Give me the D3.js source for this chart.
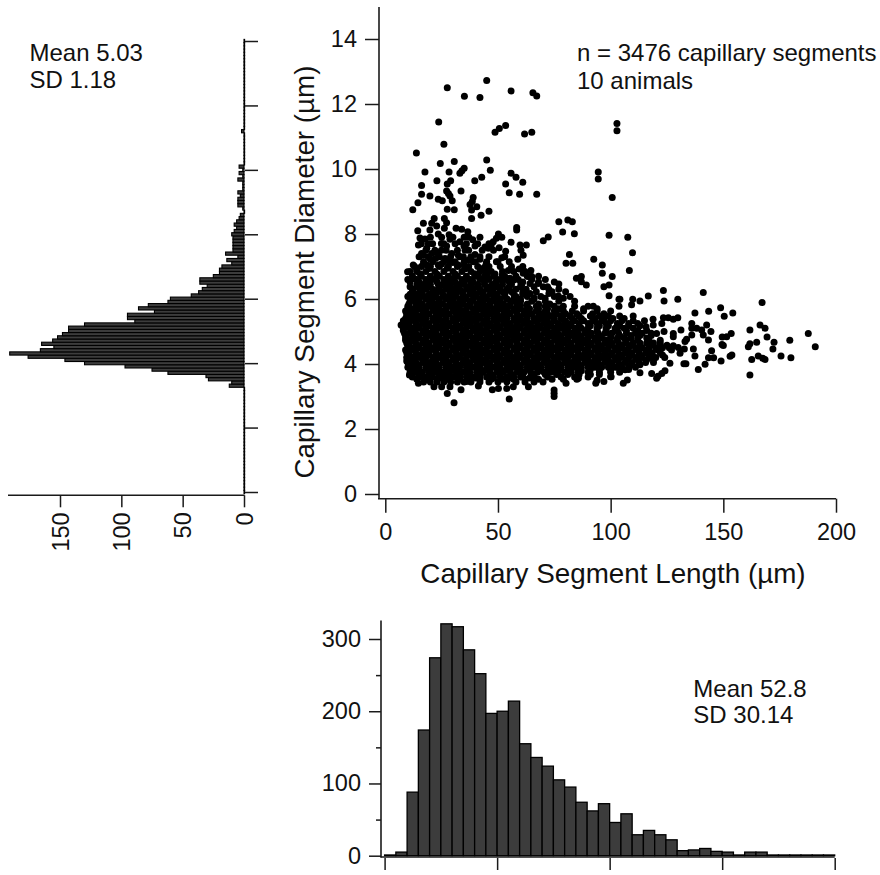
<!DOCTYPE html>
<html><head><meta charset="utf-8">
<script src="https://cdn.jsdelivr.net/npm/d3@7"></script>
<style>html,body{margin:0;background:#fff}text{font-family:"Liberation Sans",Arial,sans-serif;fill:#111}</style>
</head><body><svg id="c" width="880" height="875"></svg>
<script>
// Length histogram: counts per 5 µm bin, starting at 0
const lengthBinWidth = 5;
const lengthCounts = [1,5,88,174,274,321,317,285,252,197,200,214,155,136,124,105,95,74,62,72,46,58,29,35,29,22,7,8,10,6,5,1,5,5,1,1,1,1,1,1];
// Diameter histogram: first bin centre and counts per 0.1 µm
const diameterBinWidth = 0.1;
const diameterFirst = 3.3;
const diameterCounts = [12,10,29,31,62,75,97,130,146,176,191,166,155,165,156,152,148,143,143,130,89,95,95,73,86,78,62,60,43,37,34,30,36,36,25,20,20,18,10,14,5,15,9,9,9,9,9,10,8,6,8,6,4,3,0,1,5,5,5,3,5,1,1,1,5,1,4,1,4];
const diameterSpikeAt = 11.2, diameterSpikeCount = 2;
const diameterAxisMax = 14;
const scatterTicksX = [0,50,100,150,200];
const scatterTicksY = [0,2,4,6,8,10,12,14];
const leftTicks = [0,50,100,150];
const bottomTicks = [0,100,200,300];
const bottomMinor = [50,150,250];
// Scatter: individually read points [length, diameter]
const sparsePoints = [[27.5,12.5],[35.1,12.24],[42,12.2],[45,12.72],[55.8,12.4],[65.5,12.35],[67.2,12.25],[23.7,11.45],[48.7,11.13],[50.6,11.25],[53.4,11.34],[61.8,11.08],[65,11.13],[102.8,11.4],[102.8,11.18],[26,10.76],[13.8,10.49],[24.4,10.17],[30.6,10.23],[45,10.28],[46.6,9.96],[17.6,9.91],[28.3,9.91],[35,10.02],[33.1,9.87],[34,9.95],[42.8,9.75],[39.7,9.64],[22.9,9.64],[29,9.64],[27.5,9.54],[16.1,9.49],[55.8,9.87],[58,9.75],[61,9.59],[53.4,9.54],[55,9.27],[59.6,9.22],[67.2,9.22],[94.5,9.91],[94.5,9.69],[100.7,9.12],[33.6,9.32],[27.2,9.32],[28,9.25],[16.1,9.22],[19.8,9.17],[23.5,9.07],[25.3,9.02],[28.7,9.17],[29.7,9.02],[14.5,8.96],[12.2,8.75],[39,9.12],[38.6,9],[37.6,8.91],[40.6,8.84],[38.3,8.74],[27.5,8.76],[30.6,8.75],[46,8.7],[42.5,8.58],[38.3,8.48],[77,8.38],[81,8.43],[83,8.38],[78.7,8.06],[83.9,8.01],[58.3,8.2],[58.3,8.12],[72.3,7.91],[70.1,7.79],[99.3,7.96],[81.7,7.37],[92.5,7.22],
[16.9,8.33],[14.4,8.1],[21.7,8.48],[20.6,8.33],[19.8,8.12],[22.8,8.25],[26.2,8.48],[27.2,8.35],[26.2,8.18],[28.3,7.98],[31.4,8.18],[33.9,8.15],[36.6,8.07],[37.1,7.9],[38.8,7.82],[17.6,7.85],[15.4,7.88],[14.7,7.66],[19.1,7.7],[23.5,8],[24.9,7.71],[28.7,7.84],[27.2,7.63],[24.9,7.5],[33.1,7.76],[34.9,7.63],[35.4,7.5],[39.8,7.63],[44.2,7.6],[45.7,7.56],[47.9,7.76],[50.2,8],[51.7,7.9],[49.3,7.87],[47,7.66],[55.8,7.75],[59.8,7.66],[62.6,7.66],[60.2,7.5],[61.2,7.35],[58.8,7.22],[50.5,7.58],[53.4,7.47],[51.7,7.27],[49.3,7.15],[44.8,7.1],[39.8,7.37],[39,7.15],[32.4,7.35],[29.5,7.4],[23.5,7.4],[20.6,7.4],[16.9,7.35],[18.4,7.56],[16.1,7.4],[22.3,7.25],[26.5,7.25],[34.6,7.3],[36.9,7.2],[20,7.22],[28.7,7.15],[12.4,7.05],[13.9,6.92],[9.9,6.84],[18.4,7.05],[23.5,7.05],[32.4,7.05],[42.8,6.92],[44.3,6.88],[54.6,6.88],[59.4,6.92],[64.6,6.88],[61.2,6.79],[63.5,6.69],[65,6.69],[48.7,6.77],[51.9,6.74],[41,6.74],[44.2,6.64],[55.3,6.64],[56.8,6.58],[60.2,6.48],[64.2,6.48],[67.9,6.48],[70.1,6.38],[72.6,6.3],[77,6.46],[77,6.3],[84.8,6.64],[87,6.69],[87,6.53],[89.2,6.43],[80.2,7.1],[83.2,7.1],[96.3,7.05],[96.3,6.79],[100.7,6.69],[108.3,6.88],[109.7,7.42],[107.6,7.9],[97,6.38],[99.3,6.43],[99.3,6.1],[103.7,5.99],[92.3,5.78],[79,6.02],[76.8,6.09],[72.6,6.17],[70.9,6.02],[64.2,6.17],[62,6.2],
[15.5,6.78],[19.5,6.94],[23,6.76],[27.5,6.95],[31,6.77],[35.5,6.93],[39.5,6.78],[44,6.98],[17,7.1],[25,7.08],[30,7.12],[35,7.02],[42,7.22],[13,6.62],[21,6.62],[29,6.62],[37,6.6],[45,6.72],[52,6.55],[33,6.44],[25,6.43],[17,6.44],[41,6.42],[49,6.42],
[123.4,6.26],[141.1,6.2],[116.7,6.09],[129.8,5.99],[123.7,5.94],[113,5.94],[109.8,5.99],[109.3,5.82],[104.1,5.99],[103.7,5.78],[167.2,5.89],[143.5,5.62],[137.4,5.57],[148.8,5.73],[150.4,5.47],[154.2,5.57],[136,5.25],[136,5.1],[142.6,5.2],[138.2,5.1],[140.4,5.05],[131.2,5.05],[129.8,5.42],[127.8,5.38],[125.6,5.42],[123.4,5.42],[122.7,5.25],[118.8,5.38],[115.7,5.15],[118.9,5.2],[123.7,5],[120.4,4.94],[127.8,4.94],[127.8,4.84],[136,4.89],[133.7,4.76],[133,4.69],[141.1,4.89],[143.4,4.74],[144.5,5],[153.5,4.94],[151.5,4.84],[149.5,4.83],[161.8,5.05],[166.3,5.2],[168.5,5.1],[169.4,4.83],[172.5,4.67],[179.5,4.73],[187.7,4.94],[190.8,4.53],[164.8,4.67],[161.8,4.62],[161.1,4.53],[150,4.57],[149.4,4.6],[136.7,4.46],[144.8,4.41],[132.7,4.46],[130,4.51],[130.8,4.33],[127.8,4.56],[172,4.46],[137.4,4.25],[153.8,4.28],[153,4.24],[145.7,4.19],[143.4,4.19],[149,4.09],[141.9,3.99],[138.9,3.83],[133.4,4.01],[132.5,4.01],[165.5,4.25],[168.5,4.14],[167.5,4.18],[162.6,4.14],[161.8,3.66],[175.6,4.25],[180,4.19],[126.3,4.02],[124.1,3.79],[120.4,3.56],[118.2,3.71],[122.7,3.71],[121,3.62],[113,3.73],[105.6,3.41],[107.4,3.51],[106.4,3.82],[100.2,3.61],
[7,5.2],[30.5,2.81],[27.5,3.09],[33.6,3.21],[55,2.92],[74.9,3.2],[74.9,3.1],[74.9,3],[47.5,3.21],[50.2,3.25],[53.9,3.25],[56.8,3.3],[63.5,3.3],[80.2,3.41],[85.7,3.56],[93.4,3.41],[94,3.5],[97,3.46],[100,3.61],[14.7,3.41],[21.6,3.3],[25,3.3],[28.7,3.3],[10.7,3.66],[9.5,4.09],[16.9,3.61],[41.3,3.32],[36.1,3.46]];
// Saturated core of the cloud: diameters of the rows and the lengths read along them
const coreDiameters = [7.9,7.7,7.5,7.3,7.15,7.0,6.85,6.7,6.6,6.52,6.45,6.38,6.3,6.22,6.15,6.08,6.0,5.93,5.85,5.78,5.7,5.63,5.55,5.48,5.4,5.33,5.25,5.18,5.1,5.03,4.95,4.88,4.8,4.73,4.65,4.58,4.5,4.43,4.35,4.28,4.2,4.13,4.05,3.98,3.9,3.83,3.75,3.68,3.6,3.53,3.45,  6.27,6.04,5.81,5.58,5.36,5.14,4.91,4.69,4.47,4.24,4.02,3.79,3.57];
const coreLengths = [
[20,25,30,35,42],
[16,21,26,31,36,41,46],
[18,22,27,32,37,43,48],
[15,19,24,29,33,38,42,46,53],
[17,21,26,31,35,40,45,50,55],
[13,16,20,24,28,32,37,41,46,51,56,61],
[11,14,18,22,26,30,34,38,42,47,52,57,62],
[12,16,20,24,28,32,36,40,44,48,53,58,63,68],
[10,14,18,22,26,30,34,38,42,46,50,54,59,65,71],
[11,15,19,23,27,31,35,39,44,49,55,61,68,75],
[14,17,20,23.5,26,29,32,35,38,41,44,47.5,52,56,60.5],
[11,15,19,24,28,32,37,41,46,50,55,60,66,72],
[12.5,15.5,18,21,24,27,30,33,36,39,42,45,48,51,54,58,62.5],
[12,16,21,25,29,34,38,43,47,52,56,61,67,74,80],
[11,14,16.5,19.5,22.5,25.5,28.5,31.5,34.5,37.5,40.5,43.5,46.5,49.5,53,57,61],
[10,13,17,22,26,31,35,40,44,49,53,58,63,69,75,82],
[12.5,15,18,21,24,27,30,33,36,39,42,45,48,51,54,57,60,66],
[11,15,20,24,29,33,38,42,47,51,56,60,65,71,77,84],
[10.5,13.5,16.5,19.5,22.5,25.5,28.5,31.5,34.5,37.5,40.5,43.5,46.5,49.5,52.5,55.5,58.5,63,68,73],
[10,14,19,23,28,32,37,41,46,50,55,59,63,67,71,75,79,84,90],
[10,12.5,15,18,21,24,27,30,33,36,39,42,45,48,51,54,57,60,64,68,72,77,88,94],
[9,13,17,22,26,31,35,40,44,49,53,58,62,67,71,75,79,83,88,94,100],
[9.5,11.5,13.5,16.5,19.5,22.5,25.5,28.5,31.5,34.5,37.5,40.5,43.5,46.5,49.5,52.5,55.5,58.5,61.5,65,69,72,76,80,85,92,97],
[9.5,14,18,23,27,32,36,41,45,50,54,59,63,68,71,74,78,82,86,91,95,99,104,110],
[9,12,15,18,21,24,27,30,33,36,39,42,45,48,51,54,57,60,63,66,69,72,75,78,83,87,93,97,101,106],
[8,13,17,22,26,31,35,40,44,49,53,58,62,67,71,75,80,84,88,92,96,100,105,110,115],
[8.5,10.5,13.5,16.5,19.5,22.5,25.5,28.5,31.5,34.5,37.5,40.5,43.5,46.5,49.5,52.5,55.5,58.5,61.5,64.5,67.5,70.5,73.5,76.5,79.5,82.5,86,90,94,98,103,108,112],
[9,14,19,23,28,32,37,41,46,50,55,59,64,68,73,77,82,86,91,95,99,104,108,113],
[8,12,15,18,21,24,27,30,33,36,39,42,45,48,51,54,57,60,63,66,69,72,75,78,81,84,87,90,94,98,102,106,110],
[8,13,17,22,26,31,35,40,44,49,53,58,62,67,71,76,80,85,89,94,98,103,107,112,116],
[8.5,10.5,13.5,16.5,19.5,22.5,25.5,28.5,31.5,34.5,37.5,40.5,43.5,46.5,49.5,52.5,55.5,58.5,61.5,64.5,67.5,70.5,73.5,76.5,79.5,82.5,85.5,88.5,91.5,94.5,97.5,100.5,103.5,107,111,114,118],
[9,14,19,23,28,32,37,41,46,50,55,59,64,68,73,77,82,86,91,95,100,104,109,113,118],
[9,12,15,18,21,24,27,30,33,36,39,42,45,48,51,54,57,60,63,66,69,72,75,78,81,84,87,90,93,96,100,103,106,109,112,116],
[9,13,17,22,26,31,35,40,44,49,53,58,62,67,71,76,80,85,89,94,98,103,107,112,117,122],
[9.5,10.5,13.5,16.5,19.5,22.5,25.5,28.5,31.5,34.5,37.5,40.5,43.5,46.5,49.5,52.5,55.5,58.5,61.5,64.5,67.5,70.5,73.5,76.5,79.5,82.5,85.5,88.5,91.5,94.5,97.5,100.5,103.5,106.5,110,113,116,119,122],
[10,14,19,23,28,32,37,41,46,50,55,59,64,68,73,77,82,86,91,95,100,104,109,113,118,122,125],
[10,12,15,18,21,24,27,30,33,36,39,42,45,48,51,54,57,60,63,66,69,72,75,78,81,84,87,90,93,96,99,102,105,108,111,114,117,120,123,126],
[9,13,17,22,26,31,35,40,44,49,53,58,62,67,71,76,80,85,89,94,98,103,107,112,116,121,127],
[9.5,10.5,13.5,16.5,19.5,22.5,25.5,28.5,31.5,34.5,37.5,40.5,43.5,46.5,49.5,52.5,55.5,58.5,61.5,64.5,67.5,70.5,73.5,76.5,79.5,82.5,85.5,88.5,91.5,94.5,97.5,100.5,103.5,106.5,109.5,112.5,115.5,118.5,122],
[10,14,19,23,28,32,37,41,46,50,55,59,64,68,73,77,82,86,91,95,100,104,109,113,118,123],
[9.5,12,15,18,21,24,27,30,33,36,39,42,45,48,51,54,57,60,63,66,69,72,75,78,81,84,87,90,93,96,99,102,105,108,111,114,117,120,124],
[10,13,17,22,26,31,35,40,44,49,53,58,62,67,71,76,80,85,89,94,98,103,107,112,116,119],
[10,13.5,16.5,19.5,22.5,25.5,28.5,31.5,34.5,37.5,40.5,43.5,46.5,49.5,52.5,55.5,58.5,61.5,64.5,67.5,70.5,73.5,76.5,79.5,82.5,85.5,88.5,91.5,94.5,97.5,100.5,103.5,106.5,109.5,112.5,115.5,119],
[11,14,19,23,28,32,37,41,46,50,55,59,64,68,73,77,82,86,91,95,100,104,109,113],
[10,12,15,18,21,24,27,30,33,36,39,42,45,48,51,54,57,60,63,66,69,72,75,78,81,84,87,90,93,96,99,102,105,108,111],
[11,15,19,23,28,32,37,41,46,50,55,59,64,68,73,77,82,86,91,95,100,104,108],
[11,13.5,16.5,19.5,22.5,25.5,28.5,31.5,34.5,37.5,40.5,43.5,46.5,49.5,52.5,55.5,58.5,61.5,64.5,67.5,70.5,73.5,76.5,79.5,82.5,85.5,90,95,100,104],
[12,16,20,24,28,33,37,42,47,51,56,61,66,71,76,81,86,91,95],
[12,15,18,21,24,27,30,33,36,39,42,45,48,51,54,57,60,66,72,78,84,90],
[14,19,23,28,33,37,42,47,52,57,62,68,74,79,85],
[17,20,23,26,29,32,35,38,42,46,50,54,58,62,66,70],
[16,23,31,39,47,55],
[14,20,28,35,43,50,58,66],
[16,22,30,37,44,52,60,68],
[12,18,25,33,40,47,55,63,71],
[11,16,24,30,38,45,52,60,68,79],
[10,18,25,33,40,48,56,64,72,80],
[12,20,27,35,42,50,58,66,74,84],
[11,17,24,32,39,47,55,63,71,79,88],
[12,19,27,34,42,50,58,66,74,83,96],
[11,17,24,32,39,47,55,63,71,79,88,98],
[12,20,27,35,42,50,58,66,74,83,93],
[14,22,29,36,44,52,60,68,76,87],
[18,25,32,40,48,55,64]
];
const labelScatterX = "Capillary Segment Length (µm)", labelScatterY = "Capillary Segment Diameter (µm)";
const noteScatter = ["n = 3476 capillary segments","10 animals"];
const noteLeft = ["Mean 5.03","SD 1.18"];
const noteBottom = ["Mean 52.8","SD 30.14"];

const TICK = 23.5, NOTE = 24, TITLE = 27.8, INK = "#1a1a1a", BAR = "#3c3c3c";
const svg = d3.select("#c");

function styleAxis(g){ g.select(".domain").remove(); g.selectAll("line").attr("stroke",INK).attr("stroke-width",1.5); g.selectAll("text").attr("font-size",TICK).attr("fill","#111"); }
function hline(y,a,b){ svg.append("line").attr("x1",a).attr("x2",b).attr("y1",y).attr("y2",y).attr("stroke",INK).attr("stroke-width",1.6); }
function vline(x,a,b){ svg.append("line").attr("x1",x).attr("x2",x).attr("y1",a).attr("y2",b).attr("stroke",INK).attr("stroke-width",1.6); }
function note(lines,x,y0,dy){ lines.forEach((t,i)=>svg.append("text").attr("x",x).attr("y",y0+i*dy).attr("font-size",NOTE).text(t)); }

// ---- scatter
const sx = d3.scaleLinear().domain([0,200]).range([385.3,836]);
const sy = d3.scaleLinear().domain([0,14]).range([494,39]);
const corePoints = coreDiameters.flatMap((d,i)=>coreLengths[i].map(l=>[l,d]));
svg.append("g").selectAll("circle").data(corePoints.concat(sparsePoints)).join("circle")
  .attr("cx",d=>sx(d[0])).attr("cy",d=>sy(d[1])).attr("r",3.5).attr("fill","#000");
vline(379,7,499); hline(498.7,378,836);
svg.append("g").attr("transform","translate(379,0)").call(d3.axisLeft(sy).tickValues(scatterTicksY).tickSize(14).tickPadding(8).tickFormat(d3.format("d"))).call(styleAxis);
svg.append("g").attr("transform","translate(0,498.7)").call(d3.axisBottom(sx).tickValues(scatterTicksX).tickSize(14).tickPadding(11).tickFormat(d3.format("d"))).call(styleAxis);
svg.append("text").attr("x",613).attr("y",583).attr("text-anchor","middle").attr("font-size",TITLE).text(labelScatterX);
svg.append("text").attr("transform","translate(314,272) rotate(-90)").attr("text-anchor","middle").attr("font-size",TITLE).text(labelScatterY);
note(noteScatter,577,61,28);

// ---- left histogram (diameter)
const lx = d3.scaleLinear().domain([0,150]).range([244,60]);
const ly = d3.scaleLinear().domain([0,diameterAxisMax]).range([492,41]);
const rowH = Math.abs(ly(diameterBinWidth)-ly(0));
const rows = d3.range(0,Math.round(diameterAxisMax/diameterBinWidth)+1).map(i=>{
  const d = +(i*diameterBinWidth).toFixed(1);
  const k = Math.round((d-diameterFirst)/diameterBinWidth);
  let c = (k>=0 && k<diameterCounts.length) ? diameterCounts[k] : 0;
  if (d===diameterSpikeAt) c = diameterSpikeCount;
  return [d,c];
});
svg.append("g").selectAll("rect").data(rows).join("rect")
  .attr("x",d=>lx(d[1])).attr("width",d=>Math.max(lx(0)-lx(d[1]),0.6))
  .attr("y",d=>ly(d[0])-rowH/2).attr("height",rowH)
  .attr("fill",BAR).attr("stroke","#000").attr("stroke-width",1.1);
hline(495.3,8,244.6);
svg.append("g").attr("transform","translate(245,0)").call(d3.axisRight(ly).tickValues(scatterTicksY).tickSize(13).tickFormat("")).call(styleAxis);
const lAxis = svg.append("g").attr("transform","translate(0,495.3)").call(d3.axisBottom(lx).tickValues(leftTicks).tickSize(12).tickFormat(d3.format("d"))).call(styleAxis);
lAxis.selectAll("text").attr("transform","rotate(-90)").attr("text-anchor","end").attr("x",-17).attr("y",0).attr("dy","0.35em");
note(noteLeft,29.5,60.7,27.6);

// ---- bottom histogram (length)
const bx = d3.scaleLinear().domain([0,200]).range([384.6,834.7]);
const by = d3.scaleLinear().domain([0,300]).range([855.7,639]);
svg.append("g").selectAll("rect").data(lengthCounts).join("rect")
  .attr("x",(d,i)=>bx(i*lengthBinWidth)).attr("width",(d,i)=>bx((i+1)*lengthBinWidth)-bx(i*lengthBinWidth))
  .attr("y",d=>by(d)).attr("height",d=>by(0)-by(d))
  .attr("fill",BAR).attr("stroke","#000").attr("stroke-width",1.3);
vline(381,620.5,857.5); hline(857,380.5,834.7);
svg.append("g").attr("transform","translate(381,0)").call(d3.axisLeft(by).tickValues(bottomTicks).tickSize(12).tickPadding(8).tickFormat(d3.format("d"))).call(styleAxis);
svg.append("g").attr("transform","translate(381,0)").call(d3.axisLeft(by).tickValues(bottomMinor).tickSize(5).tickFormat("")).call(styleAxis);
svg.append("g").attr("transform","translate(0,858)").call(d3.axisBottom(bx).tickValues(scatterTicksX).tickSize(12).tickFormat("")).call(styleAxis);
note(noteBottom,693.3,696.7,26.6);
</script></body></html>
